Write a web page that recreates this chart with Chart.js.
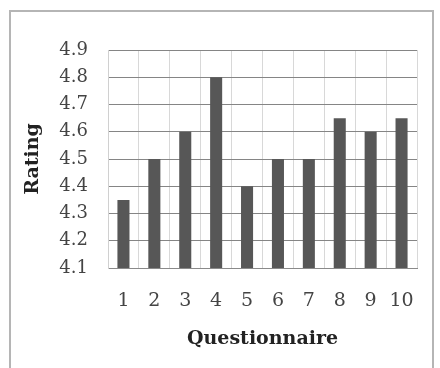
<!DOCTYPE html>
<html>
<head>
<meta charset="utf-8">
<script src="https://cdn.jsdelivr.net/npm/chart.js@4/dist/chart.umd.min.js"></script>
<style>
html,body{margin:0;padding:0;background:#fff;}
#wrap{position:relative;width:440px;height:368px;}
</style>
</head>
<body>
<div id="wrap"><canvas id="c" width="440" height="368"></canvas></div>
<script>
const categories = ['1','2','3','4','5','6','7','8','9','10'];
const ratings = [4.35, 4.5, 4.6, 4.8, 4.4, 4.5, 4.5, 4.65, 4.6, 4.65];
const yTicks = [4.1, 4.2, 4.3, 4.4, 4.5, 4.6, 4.7, 4.8, 4.9];
const xTitle = 'Questionnaire';
const yTitle = 'Rating';

const frame = {
  id: 'frame',
  beforeDraw(chart) {
    const ctx = chart.ctx;
    ctx.save();
    ctx.fillStyle = '#fff';
    ctx.fillRect(0, 0, chart.width, chart.height);
    ctx.strokeStyle = '#b5b5b5';
    ctx.lineWidth = 2;
    ctx.strokeRect(10, 11, 423, 400);
    ctx.restore();
  }
};

new Chart(document.getElementById('c'), {
  type: 'bar',
  data: {
    labels: categories,
    datasets: [{
      data: ratings,
      backgroundColor: '#575757',
      borderWidth: 0,
      categoryPercentage: 1,
      barPercentage: 0.39
    }]
  },
  options: {
    responsive: false,
    animation: false,
    devicePixelRatio: 1,
    layout: { padding: { top: 50, right: 23, left: 0, bottom: 0 } },
    plugins: { legend: { display: false }, tooltip: { enabled: false } },
    scales: {
      x: {
        afterFit(s) { s.height = 100; },
        grid: { color: '#d8d8d8', lineWidth: 1, drawTicks: false, offset: true },
        border: { color: '#8a8a8a', width: 1 },
        ticks: { color: '#444', padding: 22, font: { family: 'DejaVu Serif', size: 19 } },
        title: { display: true, text: xTitle, color: '#222', padding: { top: 0, bottom: 18 }, font: { family: 'DejaVu Serif', size: 19, weight: 'bold' } }
      },
      y: {
        min: 4.1, max: 4.9,
        afterFit(s) { s.width = 108; },
        afterBuildTicks(s) { s.ticks = yTicks.map(v => ({ value: v })); },
        grid: { color: '#858585', lineWidth: 1, drawTicks: false },
        border: { color: '#d0d0d0', width: 1 },
        ticks: { color: '#444', padding: 20, font: { family: 'DejaVu Serif', size: 18 }, callback: v => Number(v).toFixed(1) },
        title: { display: true, text: yTitle, color: '#222', padding: { top: 22 }, font: { family: 'DejaVu Serif', size: 19, weight: 'bold' } }
      }
    }
  },
  plugins: [frame]
});
</script>
</body>
</html>
